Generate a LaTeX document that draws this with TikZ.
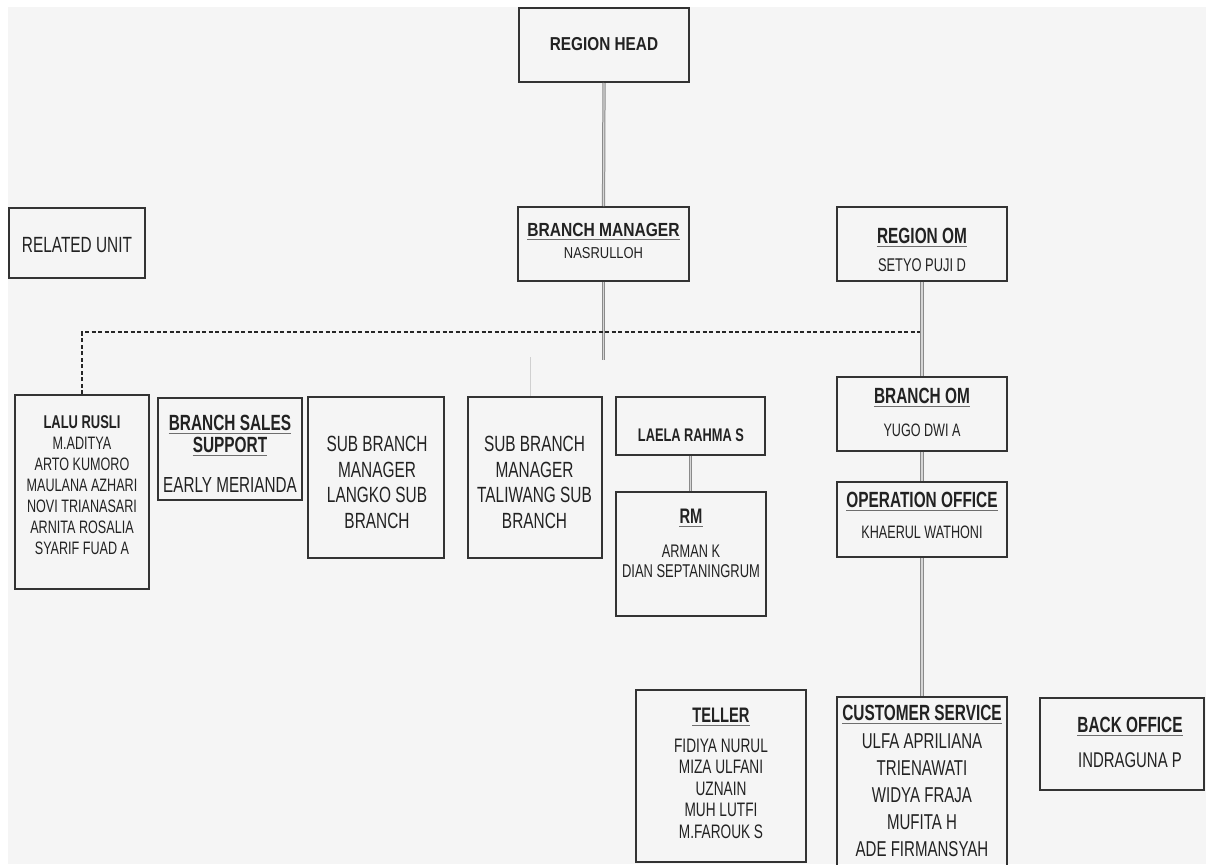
\documentclass[tikz,border=0pt]{standalone}
\usepackage{fontspec}
\setmainfont{Liberation Sans}[FakeStretch=0.70]
\newfontfamily\widefont{Liberation Sans}[FakeStretch=0.82]
\definecolor{bg}{HTML}{F5F5F5}
\definecolor{bord}{HTML}{333333}
\definecolor{ink}{HTML}{222222}
\definecolor{wire}{HTML}{8A8A8A}
\definecolor{wirein}{HTML}{D6D6D6}
\definecolor{ulgray}{HTML}{6E6E6E}
\definecolor{faintc}{HTML}{D0D0D0}
\newcommand{\fz}[1]{\fontsize{#1}{#1}\selectfont}
\newcommand{\mkbox}[5]{\node[orgbox, minimum width={(#4-#2-2)*1pt}, minimum height={(#5-#3-2)*1pt}] (#1) at ({(#2+#4)/2},{(#3+#5)/2}) {};}
\newcommand{\putline}[5]{\node[txt, font=#4] (#1) at (#2,#3) {#5};}
\newcommand{\underl}[1]{\draw[ulstyle] ([yshift=-3.5pt]#1.base west) -- ([yshift=-3.5pt]#1.base east);}
\begin{document}
\begin{tikzpicture}[x=1pt,y=-1pt,
  orgbox/.style={draw=bord, line width=2pt, rectangle, inner sep=0pt},
  txt/.style={anchor=base, inner sep=0pt, text=ink},
  ulstyle/.style={draw=ulgray, line width=1.4pt},
  wire2/.style={draw=wire, line width=1pt, double=wirein, double distance=1.2pt},
  faint/.style={draw=faintc, line width=1pt},
  dashline/.style={draw=black!85, line width=2pt, dash pattern=on 4pt off 2.5pt}]
\clip (0,0) rectangle (1206,864);
\fill[white] (0,0) rectangle (1206,864);
\fill[bg] (8,7) rectangle (1206,864);

% boxes
\mkbox{rh}{518}{7}{690}{83}
\mkbox{ru}{8}{207}{146}{279}
\mkbox{bm}{517}{206}{690}{282}
\mkbox{rom}{836}{206}{1008}{282}
\mkbox{lalu}{14}{394}{150}{590}
\mkbox{bss}{157}{397}{303}{501}
\mkbox{sbl}{307}{396}{445}{559}
\mkbox{sbt}{467}{396}{603}{559}
\mkbox{laela}{615}{396}{766}{456}
\mkbox{rm}{615}{491}{767}{617}
\mkbox{bom}{836}{376}{1008}{452}
\mkbox{oo}{836}{481}{1008}{558}
\mkbox{tel}{635}{689}{807}{863}
\mkbox{cs}{836}{696}{1008}{880}
\mkbox{bo}{1039}{697}{1205}{791}

% connectors
\coordinate (bmend) at (603.5,360);
\coordinate (fa) at (530,357);
\coordinate (dj) at (920,332);
\draw[wire2] (rh.south) -- (bm.north);
\draw[wire2] (bm.south) -- (bmend);
\draw[faint] (fa) -- (fa |- sbt.north);
\draw[wire2] (laela.south) -- (laela.south |- rm.north);
\draw[wire2] (rom.south) -- (bom.north);
\draw[wire2] (bom.south) -- (oo.north);
\draw[wire2] (oo.south) -- (cs.north);
\draw[dashline] (lalu.north) |- (dj);

% texts
\putline{trh}{604}{51}{\widefont\fz{18.7}\bfseries}{REGION HEAD}
\putline{tru}{77}{252}{\fz{22}}{RELATED UNIT}
\putline{tbm1}{603.5}{236}{\widefont\fz{19}\bfseries}{BRANCH MANAGER}\underl{tbm1}
\putline{tbm2}{603.5}{258}{\widefont\fz{15.8}}{NASRULLOH}

\putline{trom1}{922}{243}{\fz{22}\bfseries}{REGION OM}\underl{trom1}
\putline{trom2}{922}{271}{\fz{18.4}}{SETYO PUJI D}
\putline{tbom1}{922}{403}{\fz{22}\bfseries}{BRANCH OM}\underl{tbom1}
\putline{tbom2}{922}{436}{\fz{18}}{YUGO DWI A}
\putline{too1}{922}{507}{\fz{22}\bfseries}{OPERATION OFFICE}\underl{too1}
\putline{too2}{922}{538}{\fz{18}}{KHAERUL WATHONI}

\putline{tl0}{82}{428}{\fz{18.5}\bfseries}{LALU RUSLI}
\foreach \t [count=\i] in {M.ADITYA,ARTO KUMORO,MAULANA AZHARI,NOVI TRIANASARI,ARNITA ROSALIA,SYARIF FUAD A}
  \node[txt, font=\fz{18}] (tl\i) at (82,{428+21.1*\i}) {\t};

\putline{tbss1}{230}{430}{\fz{22}\bfseries}{BRANCH SALES}\underl{tbss1}
\putline{tbss2}{230}{452}{\fz{22}\bfseries}{SUPPORT}\underl{tbss2}
\putline{tbss3}{230}{492}{\fz{21.8}}{EARLY MERIANDA}

\foreach \t [count=\i] in {SUB BRANCH,MANAGER,LANGKO SUB,BRANCH}
  \node[txt, font=\fz{22}] (tsl\i) at (377,{426.5+25.4*\i}) {\t};
\foreach \t [count=\i] in {SUB BRANCH,MANAGER,TALIWANG SUB,BRANCH}
  \node[txt, font=\fz{22}] (tst\i) at (534.5,{426.5+25.4*\i}) {\t};

\putline{tla}{691}{441}{\fz{18.3}\bfseries}{LAELA RAHMA S}
\putline{trm1}{691}{523}{\fz{21}\bfseries}{RM}\underl{trm1}
\putline{trm2}{691}{557}{\fz{18.2}}{ARMAN K}
\putline{trm3}{691}{577}{\fz{18.5}}{DIAN SEPTANINGRUM}

\putline{ttel}{721}{722}{\fz{21}\bfseries}{TELLER}\underl{ttel}
\foreach \t [count=\i] in {FIDIYA NURUL,MIZA ULFANI,UZNAIN,MUH LUTFI,M.FAROUK S}
  \node[txt, font=\fz{19.5}] (tt\i) at (721,{730.5+21.5*\i}) {\t};

\putline{tcs}{922}{720}{\fz{22}\bfseries}{CUSTOMER SERVICE}\underl{tcs}
\foreach \t [count=\i] in {ULFA APRILIANA,TRIENAWATI,WIDYA FRAJA,MUFITA H,ADE FIRMANSYAH}
  \node[txt, font=\fz{21.5}] (tc\i) at (922,{722+26.8*\i}) {\t};

\putline{tbo1}{1130}{732}{\fz{22}\bfseries}{BACK OFFICE}\underl{tbo1}
\putline{tbo2}{1130}{767}{\fz{21.3}}{INDRAGUNA P}
\end{tikzpicture}
\end{document}
